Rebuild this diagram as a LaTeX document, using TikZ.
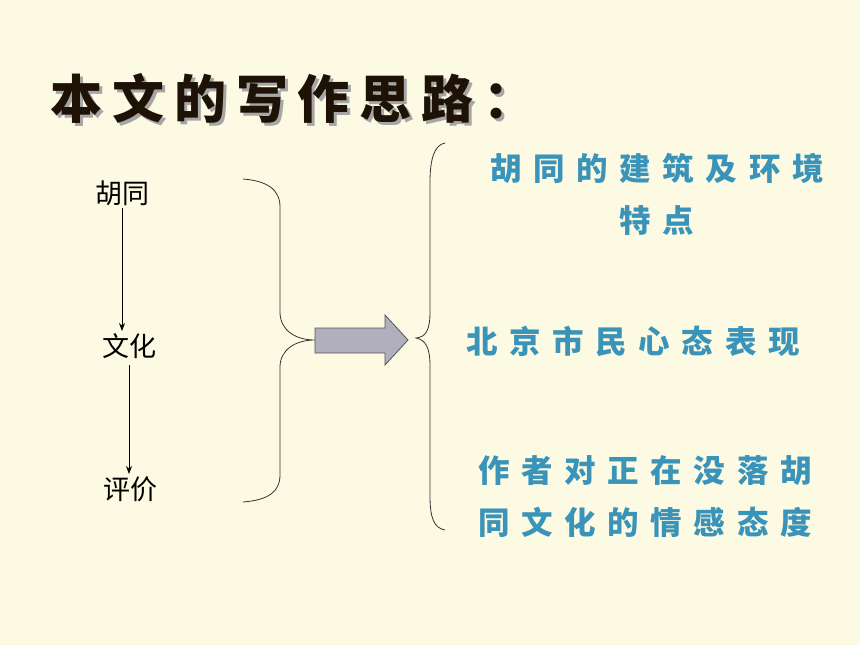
\documentclass[tikz,border=0pt]{standalone}
\usepackage{fontspec}
\usetikzlibrary{arrows.meta}
\newfontfamily\cjk{Noto Sans CJK SC}
\newfontfamily\cjktitle[LetterSpace=19]{Noto Sans CJK SC}
\newfontfamily\cjkblue[LetterSpace=37]{Noto Sans CJK SC}
\definecolor{bg}{HTML}{FCFAE2}
\definecolor{bluetxt}{HTML}{3A93B8}
\definecolor{arrowfill}{HTML}{B1AEBE}
\definecolor{arrowdraw}{HTML}{55555C}
\definecolor{titletxt}{HTML}{1E1206}
\newcommand{\shadowtext}[1]{\makebox[0pt][l]{\hspace*{3pt}\raisebox{-3pt}{\color{black!35}#1}}#1}
\tikzset{
  lefttxt/.style={font=\cjk\fontsize{27}{27}\selectfont, inner sep=0pt},
  bluelabel/.style={font=\cjkblue\bfseries\fontsize{31.5}{52}\selectfont, text=bluetxt, align=center, inner sep=0pt},
  titlestyle/.style={font=\cjktitle\bfseries\fontsize{52}{52}\selectfont, inner sep=0pt},
  flowarrow/.style={draw=black, line width=0.8pt, -{Stealth[length=8pt,width=6pt]}},
  bracestyle/.style={draw=black!80, line width=0.8pt},
}
\begin{document}
\begin{tikzpicture}[x=1pt,y=-1pt]
\fill[bg] (0,0) rectangle (860,645);
\useasboundingbox (0,0) rectangle (860,645);
% title with shadow
\node (title) [titlestyle, text=titletxt] at (293,100) {\shadowtext{本文的写作思路：}};
% left column
\node (hutong) [lefttxt] at (122,193) {胡同};
\node (wenhua) [lefttxt] at (129,346) {文化};
\node (pingjia) [lefttxt] at (130,489) {评价};
\coordinate (a1s) at (122,208);
\coordinate (a1e) at (122,331);
\coordinate (a2s) at (129,365);
\coordinate (a2e) at (129,474);
\draw[flowarrow] (a1s) -- (a1e);
\draw[flowarrow] (a2s) -- (a2e);
% left brace
\draw[bracestyle] (243,179) .. controls (268,181) and (280,190) .. (280,207) -- (280,312)
  .. controls (280,330) and (295,340) .. (315,340)
  .. controls (295,340) and (280,350) .. (280,367) -- (280,475)
  .. controls (280,492) and (268,500) .. (243,502);
% block arrow
\draw[fill=arrowfill, draw=arrowdraw, line width=0.8pt, line join=miter]
  (315,328) -- (385,328) -- (385,315) -- (408,340) -- (385,365) -- (385,353) -- (315,353) -- cycle;
% right brace
\draw[bracestyle] (445,143) .. controls (434,145) and (430,160) .. (430,182) -- (430,312)
  .. controls (430,330) and (426,337) .. (416,338)
  .. controls (426,340) and (430,348) .. (430,366) -- (430,496)
  .. controls (430,518) and (434,528) .. (445,530);
% right texts
\node (r1) [bluelabel] at (657,194) {胡同的建筑及环境\\特点};
\node (r2) [bluelabel] at (633,341) {北京市民心态表现};
\node (r3) [bluelabel] at (645,497) {作者对正在没落胡\\同文化的情感态度};
\end{tikzpicture}
\end{document}
